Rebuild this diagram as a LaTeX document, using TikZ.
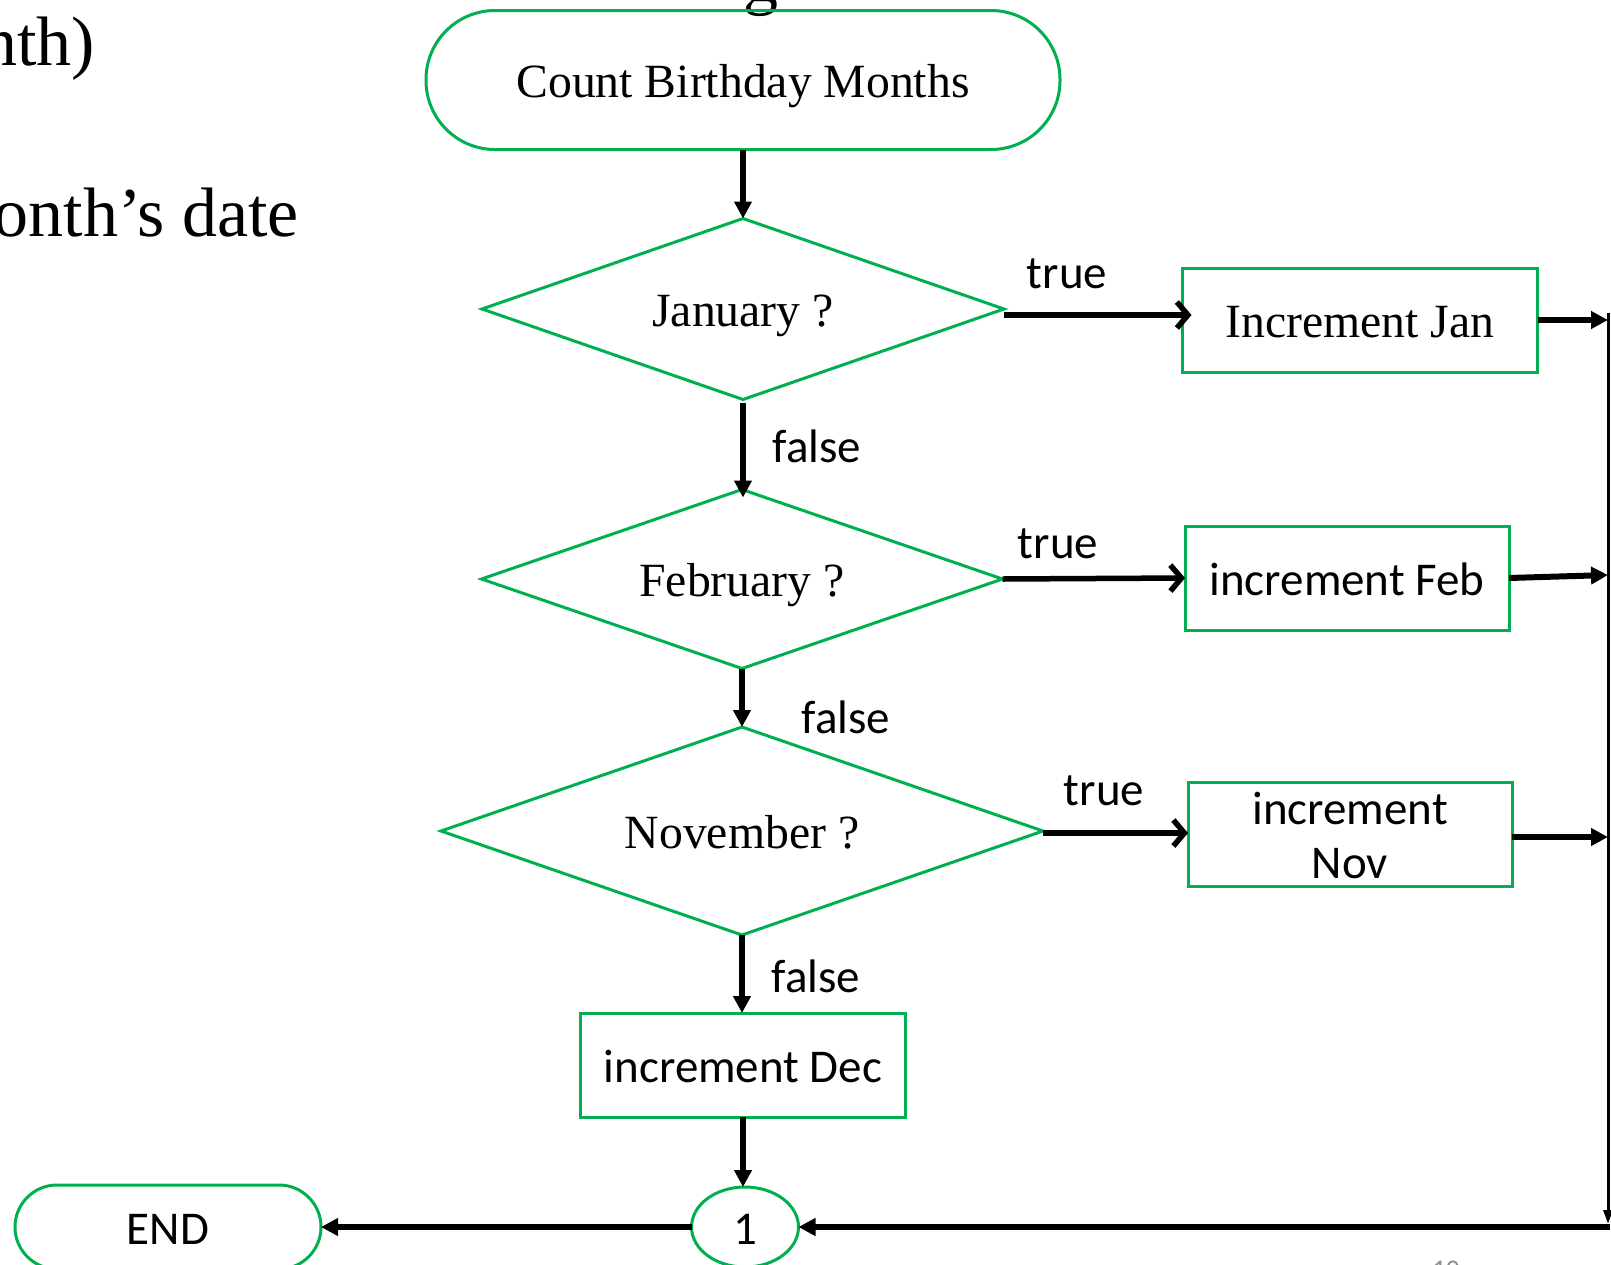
\documentclass[tikz,border=0pt]{standalone}
\usepackage{fontspec}
\setmainfont{Liberation Serif}
\newfontfamily\calibrilike{Carlito}
\usetikzlibrary{shapes.geometric,arrows.meta}
\definecolor{flowgreen}{HTML}{00B050}
\definecolor{pagegrey}{HTML}{8C8C8C}

\begin{document}
\begin{tikzpicture}[x=1pt,y=-1pt,
  every node/.style={inner sep=0pt, outer sep=0pt},
  serif/.style={font=\fontsize{47.7}{57}\selectfont, text height=35pt, text depth=0pt},
  sans/.style={font=\calibrilike\fontsize{47}{54}\selectfont, text height=35pt, text depth=0pt},
  outline/.style={draw=flowgreen, line width=3pt},
  terminal/.style={outline, rectangle, rounded corners=#1},
  decision/.style={outline, diamond, aspect=2.9},
  process/.style={outline, rectangle},
  flow/.style={line width=6pt, -{Triangle[length=17pt,width=17pt]}},
  branch/.style={line width=5.5pt, -{Straight Barb[length=11pt,width=26pt]}},
  lbl/.style={font=\calibrilike\fontsize{47}{54}\selectfont, anchor=base},
  slidetext/.style={font=\fontsize{70}{84}\selectfont, anchor=base east}
]
\useasboundingbox (0,0) rectangle (1611,1264);
\clip (0,0) rectangle (1611,1264);

% slide text running behind the chart
\node[slidetext] (titletail) at (95,65) {nth)};
\node[slidetext] (linetail) at (299,236) {onth’s date};
\node[font=\fontsize{70}{84}\selectfont, anchor=base] (headtail) at (761,1) {g};
\node[font=\calibrilike\fontsize{27}{32}\selectfont, text=pagegrey, anchor=base] (pagenum) at (1446,1278) {10};

% main column
\node[terminal=69pt, serif, minimum width=634pt, minimum height=139pt] (start) at (743,80) {Count Birthday Months};
\node[decision, serif, minimum width=522pt, minimum height=181pt] (jan) at (743,309) {January ?};
\node[decision, serif, minimum width=521pt, minimum height=179pt] (feb) at (742,579) {February ?};
\node[decision, serif, minimum width=602pt, minimum height=208pt] (nov) at (742,831) {November ?};
\node[process, sans, minimum width=325pt, minimum height=104pt] (incdec) at (743,1065) {increment Dec};
\node[outline, ellipse, sans, minimum width=107pt, minimum height=80pt] (one) at (745,1227) {1};
\node[terminal=42pt, sans, minimum width=306pt, minimum height=84pt] (endnode) at (168,1227) {END};

% counters on the right
\node[process, serif, minimum width=355pt, minimum height=104pt] (incjan) at (1360,320) {Increment Jan};
\node[process, sans, minimum width=324pt, minimum height=104pt] (incfeb) at (1347,578) {increment Feb};
\node[process, sans, text height=88pt, minimum width=324pt, minimum height=104pt, align=center] (incnov) at (1350,834) {increment\\Nov};

% collector line on the right edge
\coordinate (rtop) at (1608,313);
\coordinate (rbot) at (1608,1227);

% downward flow
\draw[flow] (start.south) -- (start.south |- jan.north);
\draw[flow] ([yshift=-3pt]jan.south) -- ([yshift=-8pt]jan.south |- feb.north);
\draw[flow] (feb.south) -- (feb.south |- nov.north);
\draw[flow] (nov.south) -- (nov.south |- incdec.north);
\draw[flow] (incdec.south) -- (incdec.south |- one.north);

% true branches
\draw[branch] ([yshift=-6pt]jan.east) -- ([yshift=5pt,xshift=9pt]incjan.west);
\draw[branch] (feb.east) -- (incfeb.west);
\draw[branch] ([yshift=-2pt]nov.east) -- ([yshift=1pt]incnov.west);

% branch labels
\node[lbl] (t1) at (1067,288) {true};
\node[lbl] (t2) at (1058,558) {true};
\node[lbl] (t3) at (1104,805) {true};
\node[lbl] (f1) at (817,462) {false};
\node[lbl] (f2) at (846,733) {false};
\node[lbl] (f3) at (816,992) {false};

% counters into the collector line
\draw[flow] (incjan.east) -- (incjan.east -| rtop);
\draw[flow] (incfeb.east) -- ([yshift=3pt]incfeb.east -| rtop);
\draw[flow] ([yshift=-3pt]incnov.east) -- ([yshift=-3pt]incnov.east -| rtop);
\draw[line width=3pt, -{Triangle[length=14pt,width=9pt]}] (rtop) -- ([yshift=3pt]rbot);
\draw[flow] ([xshift=1.5pt]rbot) -- (one.east);

% finish
\draw[flow] (one.west) -- (endnode.east);
\end{tikzpicture}
\end{document}
